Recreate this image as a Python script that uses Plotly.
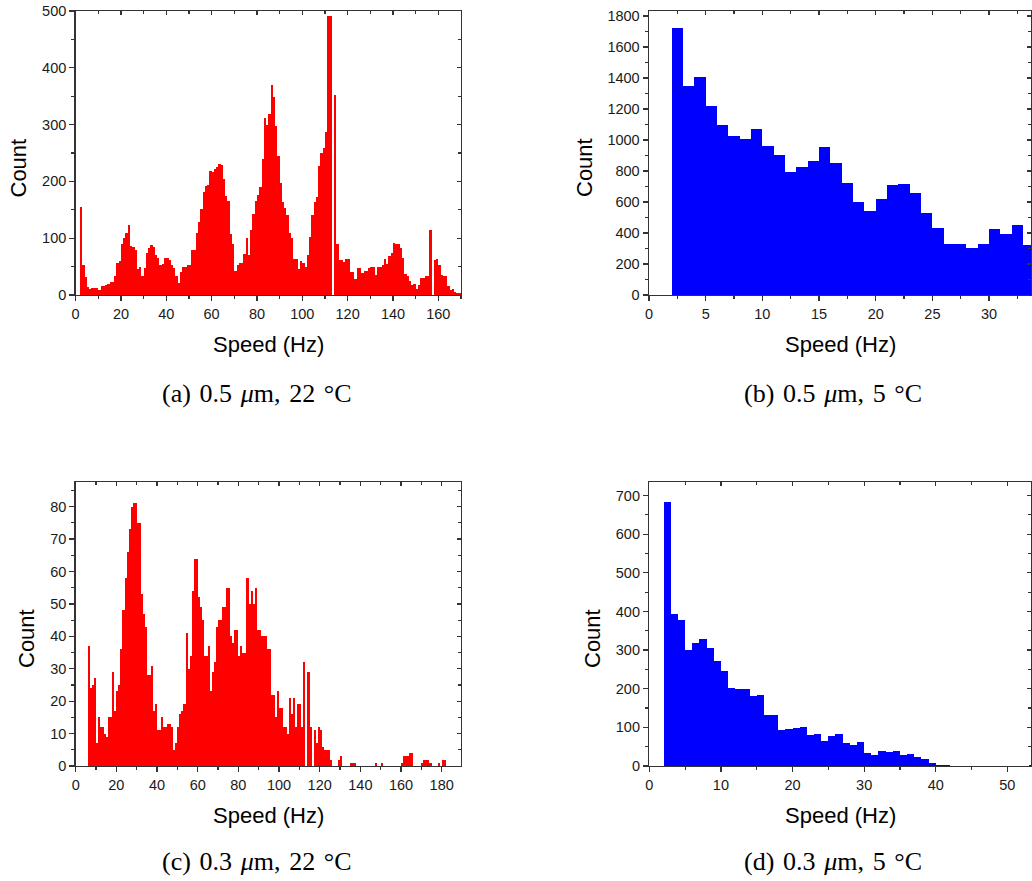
import plotly.graph_objects as go

# ---------------- data ----------------
# (a) 0.5 um, 22 C : unit-width bins starting at 2 Hz
a_start = 2
a_counts = [155, 52, 31, 14, 11, 12, 12, 12, 8, 15, 15, 18, 20, 23, 23, 33, 56, 59, 90, 100, 109, 123,
            86, 85, 79, 45, 50, 33, 47, 74, 83, 88, 85, 71, 65, 52, 55, 66, 66, 61, 52, 47, 34, 22,
            41, 49, 50, 52, 52, 79, 79, 110, 128, 151, 182, 192, 194, 218, 216, 222, 225, 231, 229, 205, 174, 165,
            107, 90, 43, 53, 56, 56, 72, 100, 71, 115, 143, 166, 176, 191, 239, 312, 300, 319, 370, 349, 297, 244, 197,
            164, 154, 140, 110, 100, 63, 63, 46, 59, 56, 50, 71, 102, 141, 163, 173, 228, 250, 258, 287, 492, 492, 0, 352, 89,
            62, 62, 58, 63, 63, 40, 40, 28, 48, 48, 38, 43, 43, 47, 49, 49, 36, 50, 50, 53, 63, 55, 69, 74, 92,
            90, 90, 82, 65, 37, 34, 25, 17, 19, 11, 18, 30, 30, 33, 33, 115, 0, 62, 63, 52, 36, 33, 33, 16, 9, 11, 5, 4, 3]

# (b) 0.5 um, 5 C
b_start = 2
b_counts = [1721, 1350, 1404, 1221, 1099, 1028, 1008, 1069, 961, 901, 794, 828, 864, 957, 850, 720,
            598, 544, 619, 708, 716, 656, 527, 430, 327, 327, 305, 327, 424, 392, 452, 323]

# (c) 0.3 um, 22 C
c_start = 6
c_counts = [37, 24, 25, 27, 7, 15, 12, 12, 10, 9, 15, 15, 29, 17, 23, 25, 36, 48, 58, 66, 73, 80, 81, 81, 75,
            75, 53, 47, 43, 28, 28, 31, 17, 19, 11, 11, 15, 12, 12, 13, 13, 12, 5, 7, 12, 16, 17, 19, 41, 30,
            34, 54, 64, 64, 52, 49, 45, 34, 34, 37, 23, 29, 32, 43, 45, 45, 49, 49, 55, 55, 40, 38, 42, 42, 34,
            37, 35, 35, 58, 50, 54, 50, 55, 42, 42, 40, 40, 40, 36, 36, 22, 22, 15, 23, 18, 18, 12, 12, 10, 21,
            16, 21, 12, 19, 19, 12, 32, 0, 29, 12, 0, 11, 7, 12, 11, 6, 5, 5, 5, 2, 0, 0, 0, 2, 3,
            0, 0, 0, 0, 1, 1, 1, 0, 0, 0, 0, 0, 0, 0, 0, 0, 1, 0, 0, 1, 0, 0, 0, 0, 0,
            0, 0, 0, 0, 1, 3, 3, 3, 4, 4, 0, 0, 0, 0, 1, 2, 2, 2, 1, 0, 0, 0, 1, 0, 2, 2]

# (d) 0.3 um, 5 C
d_start = 2
d_counts = [682, 393, 378, 299, 318, 328, 305, 272, 246, 202, 200, 198, 182, 183, 132, 132, 93, 97, 99, 101,
            79, 83, 64, 77, 83, 59, 54, 62, 33, 28, 38, 36, 38, 28, 31, 23, 19, 7, 3, 3,
            0, 0, 0, 0, 0, 0, 0, 0, 0, 0, 0, 2]

captions = ["(a) 0.5 <i>μ</i>m, 22 °C", "(b) 0.5 <i>μ</i>m, 5 °C",
            "(c) 0.3 <i>μ</i>m, 22 °C", "(d) 0.3 <i>μ</i>m, 5 °C"]
x_title = "Speed (Hz)"
y_title = "Count"

# ---------------- layout geometry ----------------
W, H = 1032, 881
RED, BLUE = "#FF0000", "#0000FF"
AXC = "#333333"
TICKFONT = dict(family="Liberation Sans, Arial, sans-serif", size=14.5, color="#1a1a1a")
TITLEFONT = dict(family="Liberation Sans, Arial, sans-serif", size=22, color="#000000")
CAPFONT = dict(family="Liberation Serif, Times New Roman, serif", size=26, color="#000000")

panels = [
    dict(start=a_start, counts=a_counts, color=RED, px=(75.6, 461), py=(11, 295),
         xr=[0, 170], xd=20, xm=10, yr=[0, 500], yd=100, ym=50,
         ytx=17.5, cap_xy=(257, 393)),
    dict(start=b_start, counts=b_counts, color=BLUE, px=(649, 1031), py=(11, 295),
         xr=[0, 33.7], xd=5, xm=2.5, yr=[0, 1832], yd=200, ym=100,
         ytx=584, cap_xy=(833, 393)),
    dict(start=c_start, counts=c_counts, color=RED, px=(75.7, 461), py=(482, 766),
         xr=[0, 189.5], xd=20, xm=10, yr=[0, 87.6], yd=10, ym=5,
         ytx=26, cap_xy=(257, 861)),
    dict(start=d_start, counts=d_counts, color=BLUE, px=(649.3, 1031), py=(482, 766),
         xr=[0, 53.3], xd=10, xm=5, yr=[0, 735], yd=100, ym=50,
         ytx=592, cap_xy=(833, 861)),
]

fig = go.Figure()
layout = dict(width=W, height=H, margin=dict(l=0, r=0, t=0, b=0, autoexpand=False),
              paper_bgcolor="white", plot_bgcolor="white", showlegend=False,
              bargap=0, barmode="overlay")
annotations = []


def ax_name(kind, i):
    return f"{kind}axis" if i == 1 else f"{kind}axis{i}"


def ax_ref(kind, i):
    return kind if i == 1 else f"{kind}{i}"


for k, p in enumerate(panels):
    i = k + 1          # primary axes
    j = k + 5          # overlay axes (top / right, inward ticks)
    xs = [p["start"] + n + 0.5 for n in range(len(p["counts"]))]
    fig.add_trace(go.Bar(x=xs, y=p["counts"], width=1.0,
                         marker=dict(color=p["color"], line=dict(width=0)),
                         xaxis=ax_ref("x", i), yaxis=ax_ref("y", i), hoverinfo="skip"))
    # empty helper traces so the overlay axes are rendered
    fig.add_trace(go.Scatter(x=[None], y=[None], mode="markers", showlegend=False,
                             xaxis=ax_ref("x", j), yaxis=ax_ref("y", i), hoverinfo="skip"))
    fig.add_trace(go.Scatter(x=[None], y=[None], mode="markers", showlegend=False,
                             xaxis=ax_ref("x", i), yaxis=ax_ref("y", j), hoverinfo="skip"))

    xdom = [p["px"][0] / W, p["px"][1] / W]
    ydom = [1 - p["py"][1] / H, 1 - p["py"][0] / H]

    common = dict(showgrid=False, zeroline=False, tickcolor=AXC, tickwidth=1.2, automargin=False)
    layout[ax_name("x", i)] = dict(
        domain=xdom, anchor=ax_ref("y", i), range=p["xr"], tick0=0, dtick=p["xd"],
        ticks="outside", ticklen=5, showline=True, linecolor=AXC, linewidth=1.4, mirror=True,
        tickfont=TICKFONT,
        minor=dict(tick0=0, dtick=p["xm"], ticks="outside", ticklen=3, tickcolor=AXC, tickwidth=1.2),
        **common)
    layout[ax_name("y", i)] = dict(
        domain=ydom, anchor=ax_ref("x", i), range=p["yr"], tick0=0, dtick=p["yd"],
        ticks="outside", ticklen=5, showline=True, linecolor=AXC, linewidth=1.4, mirror=True,
        tickfont=TICKFONT,
        minor=dict(tick0=0, dtick=p["ym"], ticks="outside", ticklen=3, tickcolor=AXC, tickwidth=1.2),
        **common)
    layout[ax_name("x", j)] = dict(
        overlaying=ax_ref("x", i), anchor=ax_ref("y", i), side="top", range=p["xr"],
        tick0=0, dtick=p["xd"], ticks="inside", ticklen=4, showticklabels=False, showline=False,
        minor=dict(tick0=0, dtick=p["xm"], ticks="inside", ticklen=3, tickcolor=AXC, tickwidth=1.2),
        **common)
    layout[ax_name("y", j)] = dict(
        overlaying=ax_ref("y", i), anchor=ax_ref("x", i), side="right", range=p["yr"],
        tick0=0, dtick=p["yd"], ticks="inside", ticklen=4, showticklabels=False, showline=False,
        minor=dict(tick0=0, dtick=p["ym"], ticks="inside", ticklen=3, tickcolor=AXC, tickwidth=1.2),
        **common)

    cx = (p["px"][0] + p["px"][1]) / 2
    cy = (p["py"][0] + p["py"][1]) / 2
    annotations.append(dict(text=x_title, xref="paper", yref="paper", x=cx / W,
                            y=1 - (p["py"][1] + 49) / H, xanchor="center", yanchor="middle",
                            showarrow=False, font=TITLEFONT))
    annotations.append(dict(text=y_title, xref="paper", yref="paper", x=p["ytx"] / W,
                            y=1 - (cy + 15) / H, xanchor="center", yanchor="middle", textangle=-90,
                            showarrow=False, font=TITLEFONT))
    annotations.append(dict(text=captions[k].replace(" ", "\u2004"), xref="paper", yref="paper",
                            x=p["cap_xy"][0] / W, y=1 - p["cap_xy"][1] / H,
                            xanchor="center", yanchor="middle",
                            showarrow=False, font=CAPFONT))

layout["annotations"] = annotations
fig.update_layout(**layout)
fig.write_html("out.html",
               config={"displayModeBar": False, "staticPlot": True},
               post_script="document.body.style.margin='0px';"
                           "document.body.style.overflow='hidden';"
                           "document.documentElement.style.overflow='hidden';")
